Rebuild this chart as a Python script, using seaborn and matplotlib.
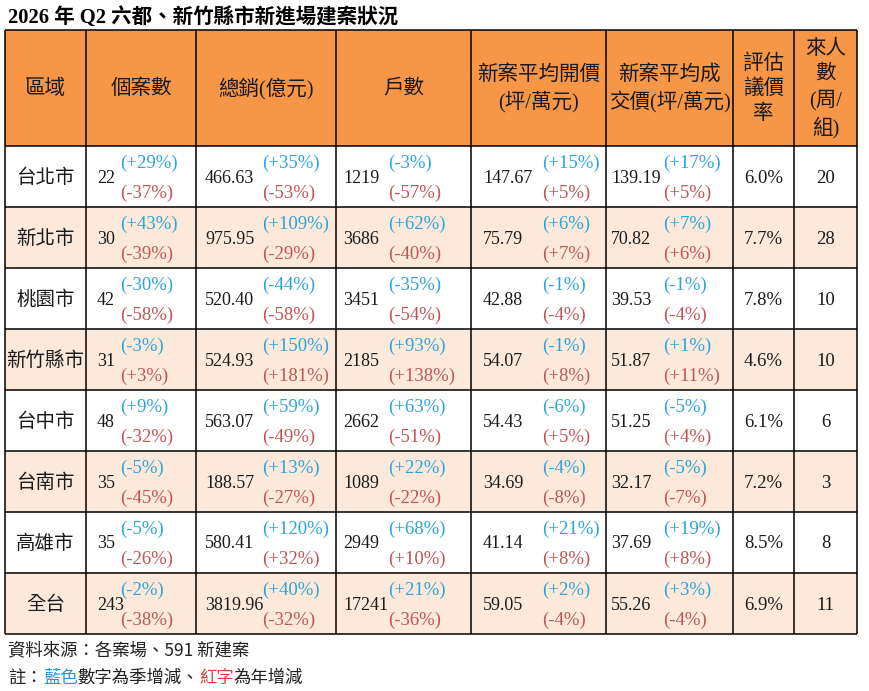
import matplotlib
matplotlib.use("Agg")
import matplotlib.pyplot as plt
from matplotlib.colors import ListedColormap
from matplotlib.patches import Rectangle
import pandas as pd
import seaborn as sns

# Data
regions = ['台北市', '新北市', '桃園市', '新竹縣市', '台中市', '台南市', '高雄市', '全台']
cases = [22, 30, 42, 31, 48, 35, 35, 243]
cases_q = ['+29%', '+43%', '-30%', '-3%', '+9%', '-5%', '-5%', '-2%']
cases_y = ['-37%', '-39%', '-58%', '+3%', '-32%', '-45%', '-26%', '-38%']
sales = ['466.63', '975.95', '520.40', '524.93', '563.07', '188.57', '580.41', '3819.96']
sales_q = ['+35%', '+109%', '-44%', '+150%', '+59%', '+13%', '+120%', '+40%']
sales_y = ['-53%', '-29%', '-58%', '+181%', '-49%', '-27%', '+32%', '-32%']
units = [1219, 3686, 3451, 2185, 2662, 1089, 2949, 17241]
units_q = ['-3%', '+62%', '-35%', '+93%', '+63%', '+22%', '+68%', '+21%']
units_y = ['-57%', '-40%', '-54%', '+138%', '-51%', '-22%', '+10%', '-36%']
open_price = ['147.67', '75.79', '42.88', '54.07', '54.43', '34.69', '41.14', '59.05']
open_q = ['+15%', '+6%', '-1%', '-1%', '-6%', '-4%', '+21%', '+2%']
open_y = ['+5%', '+7%', '-4%', '+8%', '+5%', '-8%', '+8%', '-4%']
deal_price = ['139.19', '70.82', '39.53', '51.87', '51.25', '32.17', '37.69', '55.26']
deal_q = ['+17%', '+7%', '-1%', '+1%', '-5%', '-5%', '+19%', '+3%']
deal_y = ['+5%', '+6%', '-4%', '+11%', '+4%', '-7%', '+8%', '-4%']
bargain = ['6.0%', '7.7%', '7.8%', '4.6%', '6.1%', '7.2%', '8.5%', '6.9%']
visitors = [20, 28, 10, 10, 6, 3, 8, 11]

headers = ['區域', '個案數', '總銷(億元)', '戶數', '新案平均開價\n(坪/萬元)',
           '新案平均成\n交價(坪/萬元)', '評估\n議價\n率', '來人\n數\n(周/\n組)']
title = '2026 年 Q2 六都、新竹縣市新進場建案狀況'
source = '資料來源：各案場、591 新建案'

# Layout (pixels)
W, H = 869, 691
col_edges = [5, 86, 196, 336, 471, 606, 733, 794, 857]
head_top, head_bot, row_h = 30, 146, 61
num_off = [11, 9, 7, 12, 5]     # number left offset inside the cell
pct_off = [34, 66, 52, 71, 57]  # percentage left offset inside the cell

ORANGE = '#F79646'
PEACH = '#FDE9D9'
BLUE = '#2AA5DC'
RED = '#BF5555'
TXT = '#1a1a1a'

sns.set_theme(style='white')
plt.rcParams['font.family'] = ['Liberation Serif', 'Noto Sans CJK TC']
SANS = ['Noto Sans CJK TC', 'DejaVu Sans']

fig = plt.figure(figsize=(W / 100, H / 100), dpi=100)
fig.patch.set_facecolor('white')

n = len(regions)
body_bot = head_bot + n * row_h

# striped body background
body_ax = fig.add_axes([col_edges[0] / W, 1 - body_bot / H,
                        (col_edges[-1] - col_edges[0]) / W, (body_bot - head_bot) / H])
stripe = pd.DataFrame({'bg': [i % 2 for i in range(n)]}, index=regions)
sns.heatmap(stripe, ax=body_ax, cmap=ListedColormap(['white', PEACH]), vmin=0, vmax=1,
            cbar=False, xticklabels=False, yticklabels=False)
body_ax.set_axis_off()

# overlay axes in pixel coordinates
ax = fig.add_axes([0, 0, 1, 1])
ax.set_xlim(0, W)
ax.set_ylim(H, 0)
ax.axis('off')

ax.add_patch(Rectangle((col_edges[0], head_top), col_edges[-1] - col_edges[0],
                       head_bot - head_top, facecolor=ORANGE, edgecolor='none'))

row_lines = [head_top, head_bot] + [head_bot + (i + 1) * row_h for i in range(n)]
ax.hlines(row_lines, col_edges[0], col_edges[-1], color='black', lw=1.1)
ax.vlines(col_edges, head_top, body_bot, color='black', lw=1.1)

# header
for j, h in enumerate(headers):
    cx = (col_edges[j] + col_edges[j + 1]) / 2
    ax.text(cx, (head_top + head_bot) / 2 + 1, h, ha='center', va='center',
            fontsize=14.8, color=TXT, linespacing=1.38)

# body
value_cols = [
    (cases, cases_q, cases_y),
    (sales, sales_q, sales_y),
    (units, units_q, units_y),
    (open_price, open_q, open_y),
    (deal_price, deal_q, deal_y),
]
for i in range(n):
    top = head_bot + i * row_h
    mid = top + row_h / 2
    ax.text((col_edges[0] + col_edges[1]) / 2, mid + 1, regions[i], ha='center', va='center',
            fontsize=14, color=TXT, family=SANS)
    for k, (vals, qs, ys) in enumerate(value_cols):
        left = col_edges[k + 1]
        ax.text(left + num_off[k], mid + 1.5, str(vals[i]), ha='left', va='center',
                fontsize=13, color=TXT)
        ax.text(left + pct_off[k], top + 17, f'({qs[i]})', ha='left', va='center',
                fontsize=13.5, color=BLUE)
        ax.text(left + pct_off[k], top + 47, f'({ys[i]})', ha='left', va='center',
                fontsize=13.5, color=RED)
    ax.text((col_edges[6] + col_edges[7]) / 2, mid + 1.5, bargain[i], ha='center', va='center',
            fontsize=13.5, color=TXT)
    ax.text((col_edges[7] + col_edges[8]) / 2, mid + 1.5, str(visitors[i]), ha='center', va='center',
            fontsize=13.5, color=TXT)

# title
ax.text(8, 17, title, ha='left', va='center', fontsize=14.8, fontweight='bold', color='black')

# footnotes
ax.text(8, 650, source, ha='left', va='center', fontsize=12.5, color='#222222', family=SANS)
t = ax.text(8, 678, '註：', ha='left', va='center', fontsize=12.5, color='#222222', family=SANS)
for piece, c in [('藍色', '#1E9BD7'), ('數字為季增減、', '#222222'),
                 ('紅字', '#E03C3C'), ('為年增減', '#222222')]:
    t = ax.annotate(piece, xy=(1, 0), xycoords=t, ha='left', va='bottom',
                    fontsize=12.5, color=c, family=SANS)

fig.savefig('out.png', dpi=100, facecolor='white')
